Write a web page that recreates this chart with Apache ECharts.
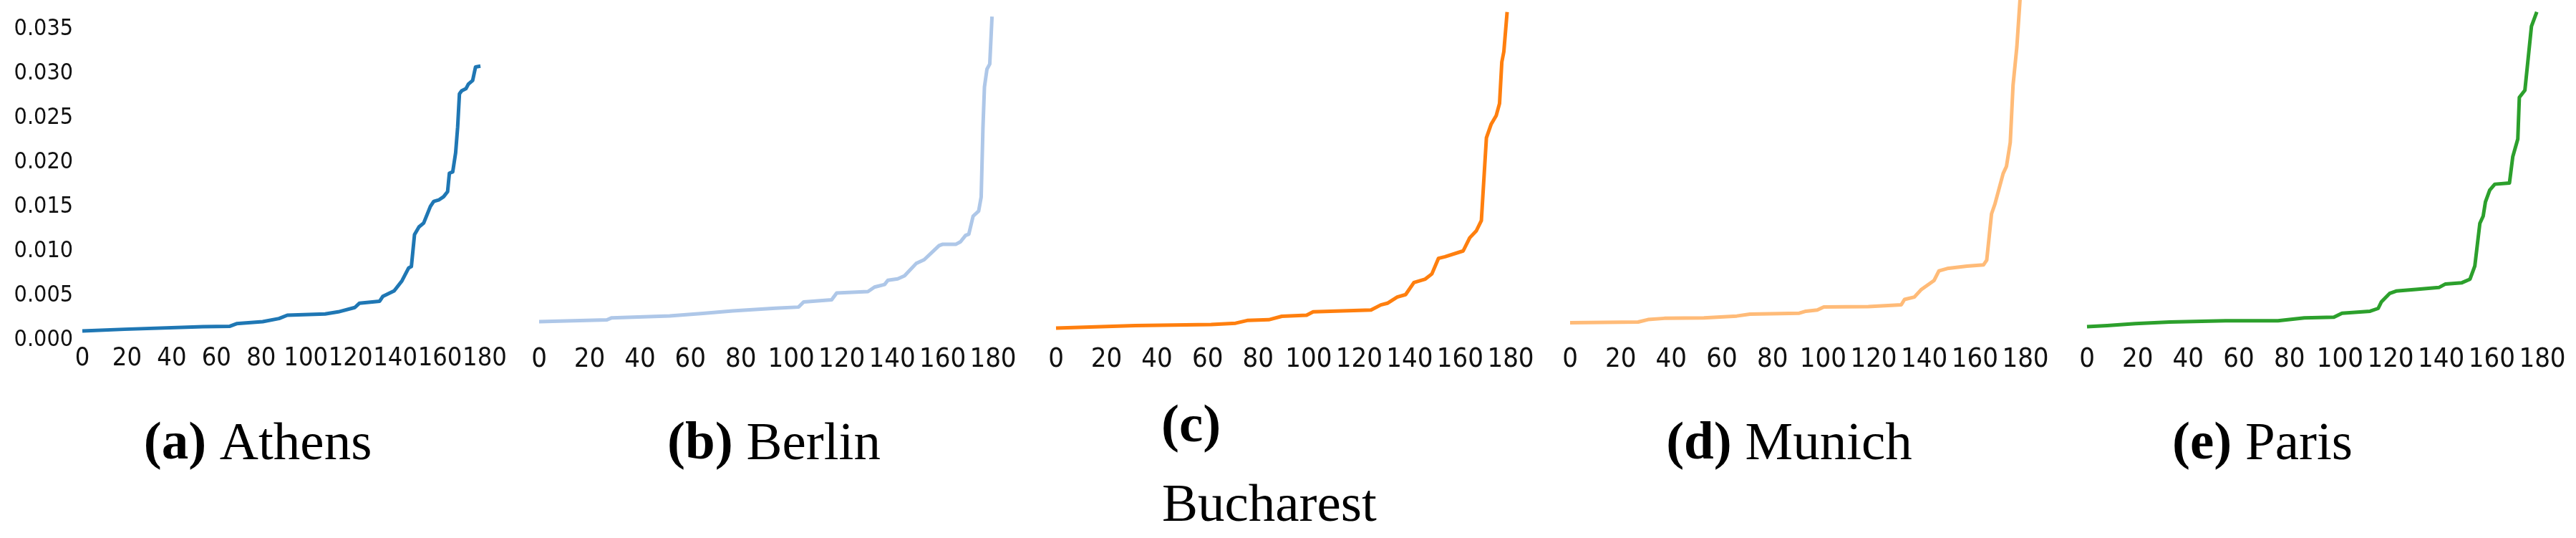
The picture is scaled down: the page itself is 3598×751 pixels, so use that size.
<!DOCTYPE html>
<html>
<head>
<meta charset="utf-8">
<script src="https://cdn.jsdelivr.net/npm/echarts@6/dist/echarts.min.js"></script>
<style>
  html, body { margin: 0; padding: 0; background: #fff; }
  #myChart { width: 3598px; height: 751px; }
</style>
</head>
<body>
<div id="myChart"></div>
<script>
// 每个城市的排序曲线, 按拐点读取 (序号, 数值)
const cities = ['Athens', 'Berlin', 'Bucharest', 'Munich', 'Paris']
const letters = ['a', 'b', 'c', 'd', 'e']
const colors = ['#1f77b4', '#aec7e8', '#ff7f0e', '#ffbb78', '#2ca02c']

const xTicks = [0, 20, 40, 60, 80, 100, 120, 140, 160, 180]
const yTicks = [0, 0.005, 0.01, 0.015, 0.02, 0.025, 0.03, 0.035]

const athensIdx = [0, 18.8, 54, 66, 69, 80.7, 88, 91.7, 108.6, 114.5, 121.9, 124, 133, 134.4, 139.5, 143, 146, 147.2, 148.6, 150.6, 152.7, 155.7, 157.2, 159.4, 161.6, 163.4, 164.2, 165.7, 167, 167.9, 168.7, 169.7, 171.6, 172.7, 174.6, 175.9, 178.1]
const athensVal = [0.00104, 0.00124, 0.00153, 0.00158, 0.00187, 0.0021, 0.00245, 0.00282, 0.00297, 0.0032, 0.00369, 0.00418, 0.0044, 0.00493, 0.00556, 0.0067, 0.00815, 0.0083, 0.0119, 0.01276, 0.0132, 0.01507, 0.01564, 0.01579, 0.01616, 0.01674, 0.01881, 0.01896, 0.02112, 0.024, 0.02774, 0.02809, 0.02832, 0.02884, 0.02924, 0.03077, 0.03086]

const berlinIdx = [0, 26.9, 28.8, 51.8, 64.9, 76.7, 93.7, 102.9, 104.9, 116, 118, 130.4, 133, 137, 138.3, 142.2, 144.9, 149.5, 152.7, 158.6, 159.9, 165.2, 167.1, 169.1, 170.4, 172.1, 174.3, 175.3, 176, 176.6, 177.6, 178.7, 179.6]
const berlinVal = [0.0021, 0.0023, 0.00253, 0.00274, 0.00302, 0.00331, 0.0036, 0.00374, 0.00432, 0.00455, 0.00533, 0.00548, 0.00599, 0.00628, 0.00676, 0.00692, 0.00726, 0.00864, 0.00907, 0.01065, 0.0108, 0.0108, 0.01109, 0.0118, 0.01195, 0.01397, 0.01455, 0.01613, 0.0239, 0.02852, 0.03053, 0.0311, 0.03644]

const bucharestIdx = [0, 31.3, 61.4, 71.1, 75.7, 84.2, 89.4, 99.2, 101.8, 124.7, 128.6, 131.2, 135.1, 138.4, 141.7, 146.2, 148.8, 151.4, 154, 161.2, 163.8, 166.4, 168.4, 170.4, 172.3, 174.3, 175.6, 176.5, 177.3, 178.6]
const bucharestVal = [0.00138, 0.00165, 0.00177, 0.00192, 0.00223, 0.00231, 0.0027, 0.00282, 0.0032, 0.0034, 0.00398, 0.00417, 0.00487, 0.00514, 0.0065, 0.00689, 0.00747, 0.00922, 0.00941, 0.01006, 0.01154, 0.01232, 0.01348, 0.02279, 0.02434, 0.02531, 0.02667, 0.03132, 0.03249, 0.03695]

const munichIdx = [0, 26.9, 30.8, 37.3, 52.9, 65.9, 71.1, 90.6, 93.2, 97.7, 100.3, 117.9, 130.9, 132.2, 136.1, 138.7, 140.6, 143.9, 145.8, 149.1, 156.9, 163.4, 164.7, 166.6, 167.9, 171.2, 172.5, 174, 175.1, 176.6, 177.9]
const munichVal = [0.00198, 0.00206, 0.00233, 0.00247, 0.00252, 0.00273, 0.00295, 0.00305, 0.00327, 0.0034, 0.00375, 0.0038, 0.00399, 0.0046, 0.00487, 0.00568, 0.00607, 0.00674, 0.00781, 0.00808, 0.00835, 0.00848, 0.00902, 0.01423, 0.0153, 0.01878, 0.01958, 0.02226, 0.02868, 0.033, 0.0385]

const parisIdx = [0, 8, 19.1, 32.7, 54.8, 75.5, 85.9, 97.6, 100.8, 111.9, 115.1, 116.4, 119.6, 122.2, 130, 139.1, 141.7, 148.2, 151.4, 153.3, 155.3, 156.6, 157.5, 159.2, 161.2, 167, 168.3, 170.3, 170.9, 173.1, 175.7, 177.8]
const parisVal = [0.00153, 0.00166, 0.00188, 0.00206, 0.00219, 0.00219, 0.00252, 0.0026, 0.00305, 0.00327, 0.00359, 0.00434, 0.00527, 0.00554, 0.00573, 0.00594, 0.00634, 0.00648, 0.00688, 0.00835, 0.01316, 0.01397, 0.01557, 0.01691, 0.01757, 0.01771, 0.02065, 0.02266, 0.02734, 0.02815, 0.03536, 0.03697]

const seriesIdx = [athensIdx, berlinIdx, bucharestIdx, munichIdx, parisIdx]
const seriesVal = [athensVal, berlinVal, bucharestVal, munichVal, parisVal]

// 布局 (像素), 第一个子图带y轴标签
const panels = [
  { left: 115, width: 562, cx: 360, tick: 36 },
  { left: 753, width: 634, cx: 1081, tick: 38 },
  { left: 1475, width: 635, cx: 1660, tick: 38 },
  { left: 2193, width: 636, cx: 2499, tick: 38 },
  { left: 2915, width: 636, cx: 3160, tick: 38 }
]
const tickFont = '"DejaVu Sans Condensed", "DejaVu Sans", sans-serif'
const capFont = '"Liberation Serif", "DejaVu Serif", serif'
const capSize = 75

const grids = panels.map(p => ({ left: p.left, width: p.width, top: 41, height: 434 }))

const xAxes = panels.map((p, i) => ({
  type: 'value',
  gridIndex: i,
  min: xTicks[0],
  max: xTicks[xTicks.length - 1],
  interval: xTicks[1] - xTicks[0],
  axisLine: { show: false },
  axisTick: { show: false },
  splitLine: { show: false },
  axisLabel: {
    margin: 8,
    color: '#111',
    fontSize: p.tick,
    fontFamily: tickFont
  }
}))

const yAxes = panels.map((p, i) => ({
  type: 'value',
  gridIndex: i,
  min: yTicks[0],
  max: yTicks[yTicks.length - 1],
  interval: yTicks[1] - yTicks[0],
  axisLine: { show: false },
  axisTick: { show: false },
  splitLine: { show: false },
  axisLabel: {
    show: i === 0,
    margin: 13,
    color: '#111',
    fontSize: 32,
    fontFamily: tickFont,
    formatter: v => v.toFixed(3)
  }
}))

const series = cities.map((name, i) => ({
  name: name,
  type: 'line',
  xAxisIndex: i,
  yAxisIndex: i,
  showSymbol: false,
  symbol: 'none',
  clip: false,
  silent: true,
  lineStyle: { color: colors[i], width: 5, join: 'round' },
  data: seriesIdx[i].map((x, k) => [x, seriesVal[i][k]])
}))

const richStyle = {
  b: { fontFamily: capFont, fontSize: capSize, fontWeight: 'bold', fill: '#000' },
  r: { fontFamily: capFont, fontSize: capSize, fill: '#000' }
}

const captions = cities.map((name, i) => {
  if (name === 'Bucharest') return null
  return {
    type: 'text',
    x: panels[i].cx,
    y: 621,
    style: {
      text: '{b|(' + letters[i] + ')}{r| ' + name + '}',
      rich: richStyle,
      align: 'center',
      verticalAlign: 'middle'
    }
  }
}).filter(Boolean)

// (c) 的标题换行显示
captions.push({
  type: 'text', x: 1622, y: 597,
  style: { text: '(c)', font: 'bold ' + capSize + 'px ' + capFont, fill: '#000', align: 'left', verticalAlign: 'middle' }
})
captions.push({
  type: 'text', x: 1623, y: 707,
  style: { text: 'Bucharest', font: capSize + 'px ' + capFont, fill: '#000', align: 'left', verticalAlign: 'middle' }
})

const myChart = echarts.init(document.getElementById('myChart'))
myChart.setOption({
  animation: false,
  backgroundColor: '#fff',
  grid: grids,
  xAxis: xAxes,
  yAxis: yAxes,
  series: series,
  graphic: captions
})
</script>
</body>
</html>
